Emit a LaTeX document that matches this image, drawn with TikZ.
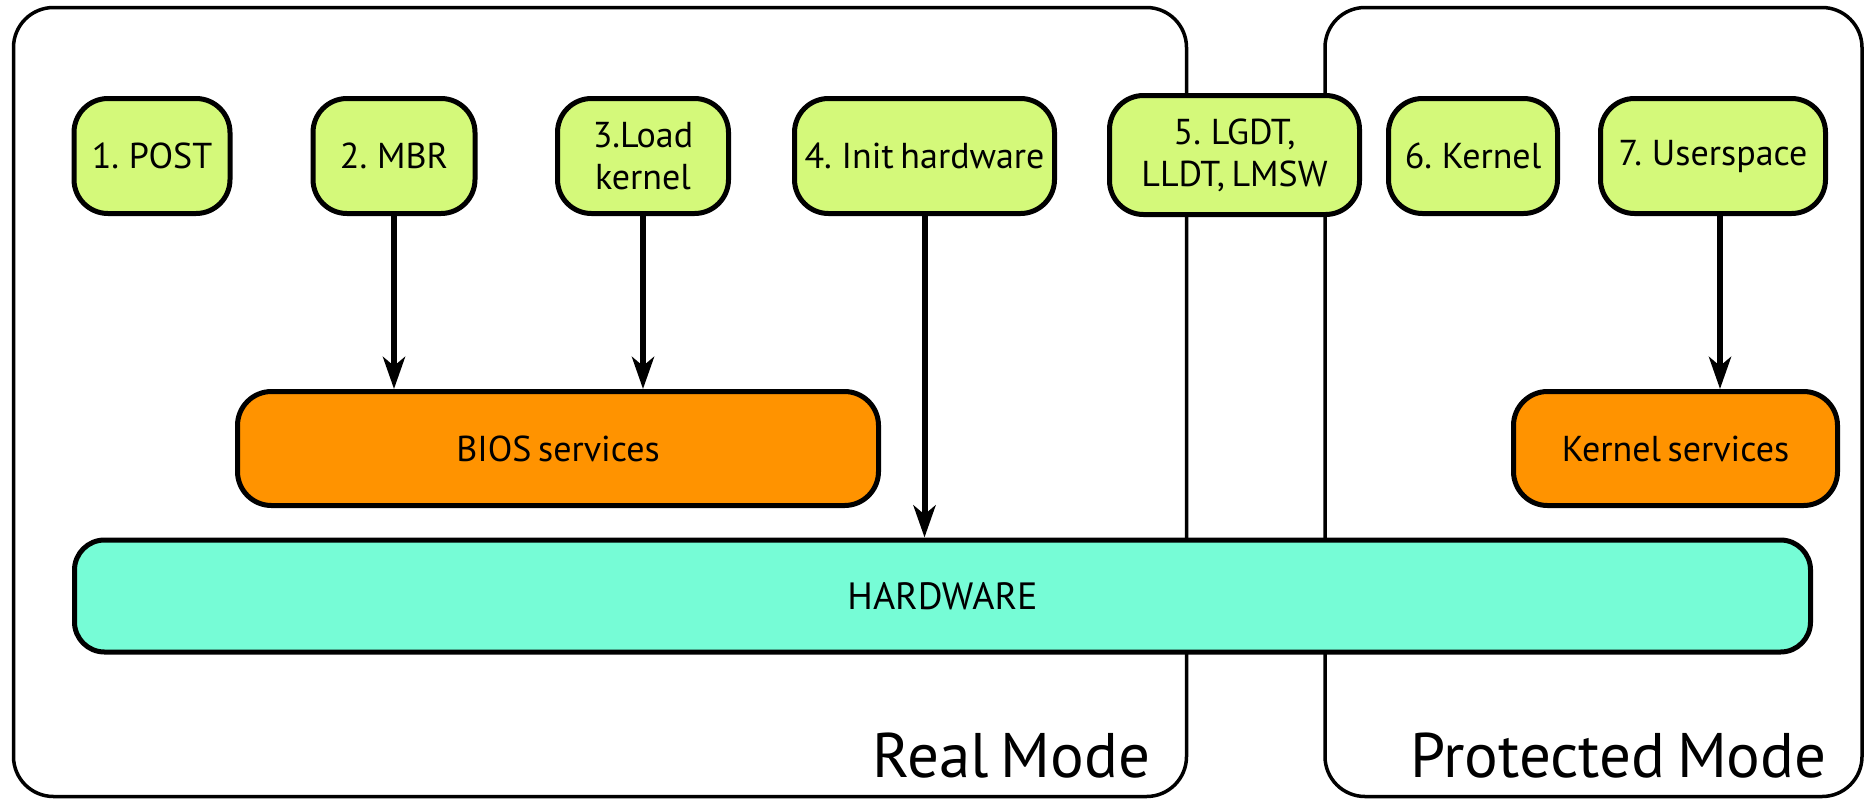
\documentclass[tikz,border=0pt]{standalone}
\usepackage{fontspec}
\setmainfont[WordSpace=0.7]{PT Sans}
\usetikzlibrary{arrows.meta,positioning}
\definecolor{stepgreen}{HTML}{D4F97A}
\definecolor{svcorange}{HTML}{FF9300}
\definecolor{hwteal}{HTML}{76FCD6}

\begin{document}
\begin{tikzpicture}[x=1pt,y=-1pt,line join=round,
  stage/.style={draw,line width=5pt,fill=stepgreen,rounded corners=34pt,
    minimum height=115pt,align=center,inner sep=0pt,
    font=\fontsize{36}{42}\selectfont},
  service/.style={draw,line width=5pt,fill=svcorange,rounded corners=34pt,
    minimum height=114pt,inner sep=0pt,font=\fontsize{36}{40}\selectfont},
  mode/.style={draw,line width=3.5pt,rounded corners=40pt,inner sep=0pt},
  modename/.style={anchor=base east,inner sep=0pt,font=\fontsize{63}{68}\selectfont},
  call/.style={line width=6pt,-{Stealth[length=32pt,width=22pt,inset=9pt]}}]
  \useasboundingbox (0,0) rectangle (1873,801);

  % The two processor modes, drawn first so the boxes sit on top.
  \node[mode,minimum width=1173pt,minimum height=789pt] (real) at (600,402) {};
  \node[mode,minimum width=537pt,minimum height=789pt] (prot) at (1593.5,402) {};
  \node[modename] (realname) at ([xshift=-38pt,yshift=21pt]real.south east) {Real Mode};
  \node[modename] (protname) at ([xshift=-37pt,yshift=21pt]prot.south east) {Protected Mode};

  % Boot steps
  \node[stage,minimum width=156pt] (post) at (152,156) {1. POST};
  \node[stage,minimum width=162pt] (mbr) at (394,156) {2. MBR};
  \node[stage,minimum width=171pt] (load) at (643,156) {3.Load\\kernel};
  \node[stage,minimum width=260pt] (init) at (924.5,156) {4. Init hardware};
  \node[stage,minimum width=250pt,minimum height=119pt] (lgdt) at (1234.5,155)
    {5. LGDT,\\LLDT, LMSW};
  \node[stage,minimum width=169pt] (kernel) at (1473,156) {6. Kernel};
  \node[stage,minimum width=225pt] (user) at (1713,156) {7. Userspace};

  \node[service,minimum width=641pt] (bios) at (558,448.5) {BIOS services};
  \node[service,minimum width=324pt] (ksvc) at (1675.5,448.5) {Kernel services};
  \node[draw,line width=5pt,fill=hwteal,rounded corners=30pt,minimum width=1736pt,
    minimum height=112pt,font=\fontsize{38}{40}\selectfont] (hw) at (942.5,596) {HARDWARE};

  \draw[call] (mbr.south) -- (mbr.south |- bios.north);
  \draw[call] (load.south) -- (load.south |- bios.north);
  \draw[call] (init.south) -- (init.south |- hw.north);
  \draw[call] ([xshift=7pt]user.south) -- ([xshift=7pt]user.south |- ksvc.north);
\end{tikzpicture}
\end{document}
